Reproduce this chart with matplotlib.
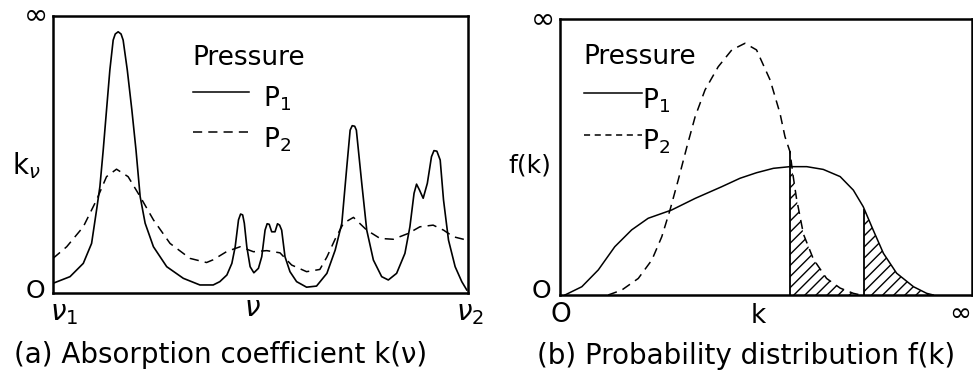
import matplotlib
matplotlib.use("Agg")
import matplotlib.pyplot as plt
import numpy as np

plt.rcParams['font.family'] = ['DejaVu Sans']
plt.rcParams['mathtext.fontset'] = 'dejavusans'
plt.rcParams['hatch.linewidth'] = 1.0

# ---------------- Panel (a): absorption coefficient k(nu) ----------------
nu_p1 = [0.000, 0.041, 0.073, 0.093, 0.105, 0.113, 0.121, 0.129, 0.137, 0.145, 0.150,
         0.157, 0.164, 0.169, 0.179, 0.190, 0.200, 0.210, 0.222, 0.242, 0.274, 0.314,
         0.354, 0.386, 0.402, 0.419, 0.431, 0.439, 0.447, 0.452, 0.457, 0.461, 0.467,
         0.475, 0.484, 0.495, 0.503, 0.511, 0.516, 0.521, 0.527, 0.535, 0.541, 0.546,
         0.551, 0.559, 0.571, 0.587, 0.611, 0.635, 0.660, 0.680, 0.696, 0.708, 0.716,
         0.721, 0.727, 0.731, 0.744, 0.756, 0.772, 0.792, 0.808, 0.828, 0.848, 0.860,
         0.870, 0.876, 0.883, 0.892, 0.902, 0.912, 0.918, 0.925, 0.933, 0.941, 0.953,
         0.969, 0.985, 0.997]
k_p1 = [0.035, 0.059, 0.107, 0.179, 0.300, 0.384, 0.516, 0.661, 0.805, 0.913, 0.935,
        0.943, 0.935, 0.913, 0.805, 0.661, 0.516, 0.348, 0.252, 0.167, 0.095, 0.053,
        0.029, 0.029, 0.041, 0.065, 0.107, 0.167, 0.264, 0.285, 0.282, 0.252, 0.167,
        0.095, 0.073, 0.089, 0.131, 0.227, 0.250, 0.248, 0.221, 0.221, 0.250, 0.245,
        0.227, 0.131, 0.077, 0.041, 0.021, 0.025, 0.071, 0.155, 0.252, 0.456, 0.588,
        0.604, 0.602, 0.588, 0.396, 0.227, 0.119, 0.059, 0.047, 0.071, 0.143, 0.239,
        0.360, 0.393, 0.372, 0.342, 0.396, 0.492, 0.514, 0.512, 0.480, 0.336, 0.191,
        0.095, 0.041, 0.011]

nu_p2 = [0.000, 0.033, 0.073, 0.105, 0.129, 0.153, 0.181, 0.210, 0.242, 0.282, 0.330,
         0.370, 0.386, 0.419, 0.451, 0.483, 0.515, 0.547, 0.575, 0.611, 0.643, 0.660,
         0.680, 0.700, 0.724, 0.756, 0.788, 0.820, 0.856, 0.884, 0.916, 0.941, 0.965,
         0.997]
k_p2 = [0.125, 0.167, 0.239, 0.336, 0.420, 0.447, 0.420, 0.348, 0.264, 0.179, 0.125,
        0.110, 0.120, 0.150, 0.167, 0.149, 0.153, 0.145, 0.101, 0.077, 0.085, 0.130,
        0.195, 0.252, 0.273, 0.227, 0.197, 0.194, 0.215, 0.239, 0.245, 0.227, 0.203,
        0.191]

# ---------------- Panel (b): probability distribution f(k) ----------------
k_b_p1 = [0.012, 0.053, 0.093, 0.133, 0.174, 0.214, 0.271, 0.328, 0.392, 0.437, 0.477,
          0.518, 0.558, 0.599, 0.639, 0.680, 0.712, 0.736, 0.760, 0.785, 0.817, 0.858,
          0.890, 0.906]
f_p1 = [0.000, 0.030, 0.091, 0.175, 0.236, 0.278, 0.308, 0.350, 0.392, 0.423, 0.443,
        0.459, 0.465, 0.465, 0.455, 0.429, 0.380, 0.320, 0.236, 0.151, 0.079, 0.030,
        0.006, 0.000]

k_b_p2 = [0.117, 0.150, 0.190, 0.223, 0.247, 0.267, 0.287, 0.308, 0.328, 0.352, 0.384,
          0.417, 0.449, 0.477, 0.510, 0.534, 0.546, 0.558, 0.566, 0.574, 0.591, 0.615,
          0.647, 0.680, 0.712, 0.730]
f_p2 = [0.000, 0.018, 0.060, 0.127, 0.211, 0.308, 0.417, 0.537, 0.646, 0.743, 0.827,
        0.888, 0.912, 0.888, 0.779, 0.658, 0.574, 0.520, 0.430, 0.350, 0.220, 0.130,
        0.060, 0.025, 0.006, 0.000]

cut_k = [0.558, 0.738]
cut_top = [0.52, 0.31]

W, H = 973, 374
fig = plt.figure(figsize=(W / 100, H / 100), dpi=100)


def px_axes(x0, y0, x1, y1):
    return fig.add_axes([x0 / W, 1 - y1 / H, (x1 - x0) / W, (y1 - y0) / H])


def style(ax):
    ax.set_xlim(0, 1)
    ax.set_ylim(0, 1)
    ax.set_xticks([])
    ax.set_yticks([])
    for s in ax.spines.values():
        s.set_linewidth(1.8)


ax1 = px_axes(53, 16, 468, 293)
style(ax1)
ax1.plot(nu_p1, k_p1, color='black', lw=1.2, solid_joinstyle='round')
ax1.plot(nu_p2, k_p2, color='black', lw=1.1, dashes=(6, 4))

ax1.text(0.335, 0.85, 'Pressure', fontsize=19, va='center', ha='left')
ax1.plot([0.337, 0.472], [0.727, 0.727], color='black', lw=1.1)
ax1.text(0.505, 0.70, r'$\mathregular{P_1}$', fontsize=19, va='center', ha='left')
ax1.plot([0.337, 0.472], [0.582, 0.582], color='black', lw=1.1, dashes=(6, 4))
ax1.text(0.505, 0.555, r'$\mathregular{P_2}$', fontsize=19, va='center', ha='left')

fig.text(36 / W, 1 - 15.5 / H, '∞', fontsize=21, ha='center', va='center')
fig.text(35 / W, 1 - 291 / H, 'O', fontsize=18, ha='center', va='center')
fig.text(26 / W, 1 - 166 / H, r'$\mathregular{k}_\nu$', fontsize=20, ha='center', va='center')
fig.text(64 / W, 1 - 313 / H, r'$\nu_1$', fontsize=20, ha='center', va='center')
fig.text(252 / W, 1 - 308 / H, r'$\nu$', fontsize=20, ha='center', va='center')
fig.text(470 / W, 1 - 313 / H, r'$\nu_2$', fontsize=20, ha='center', va='center')
fig.text(221 / W, 1 - 355 / H, '(a) Absorption coefficient k(ν)', fontsize=20,
         ha='center', va='center')

ax2 = px_axes(560, 19, 972, 295)
style(ax2)
ax2.plot(k_b_p1, f_p1, color='black', lw=1.1)
ax2.plot(k_b_p2, f_p2, color='black', lw=1.1, dashes=(6, 4))

kb2 = np.array(k_b_p2)
fb2 = np.array(f_p2)
m1 = kb2 > cut_k[0] + 1e-9
x_h1 = np.concatenate([[cut_k[0]], kb2[m1]])
y_h1 = np.concatenate([[cut_top[0]], fb2[m1]])
ax2.fill_between(x_h1, 0, y_h1, facecolor='none', edgecolor='black', hatch='///', lw=0)

kb1 = np.array(k_b_p1)
fb1 = np.array(f_p1)
m2 = kb1 > cut_k[1] + 1e-9
x_h2 = np.concatenate([[cut_k[1]], kb1[m2]])
y_h2 = np.concatenate([[cut_top[1]], fb1[m2]])
ax2.fill_between(x_h2, 0, y_h2, facecolor='none', edgecolor='black', hatch='///', lw=0)
ax2.vlines(cut_k, 0, cut_top, color='black', lw=1.3)

ax2.text(0.056, 0.862, 'Pressure', fontsize=19, va='center', ha='left')
ax2.plot([0.058, 0.20], [0.731, 0.731], color='black', lw=1.1)
ax2.text(0.198, 0.705, r'$\mathregular{P_1}$', fontsize=19, va='center', ha='left')
ax2.plot([0.058, 0.20], [0.58, 0.58], color='black', lw=1.1, dashes=(4, 3))
ax2.text(0.198, 0.555, r'$\mathregular{P_2}$', fontsize=19, va='center', ha='left')

fig.text(543 / W, 1 - 19 / H, '∞', fontsize=21, ha='center', va='center')
fig.text(530 / W, 1 - 165 / H, 'f(k)', fontsize=18, ha='center', va='center')
fig.text(541 / W, 1 - 291 / H, 'O', fontsize=18, ha='center', va='center')
fig.text(561 / W, 1 - 315 / H, 'O', fontsize=19, ha='center', va='center')
fig.text(758 / W, 1 - 316 / H, 'k', fontsize=19, ha='center', va='center')
fig.text(971 / W, 1 - 314 / H, '∞', fontsize=19, ha='right', va='center')
fig.text(746 / W, 1 - 356 / H, '(b) Probability distribution f(k)', fontsize=20,
         ha='center', va='center')

fig.savefig('out.png', dpi=100, facecolor='white')
